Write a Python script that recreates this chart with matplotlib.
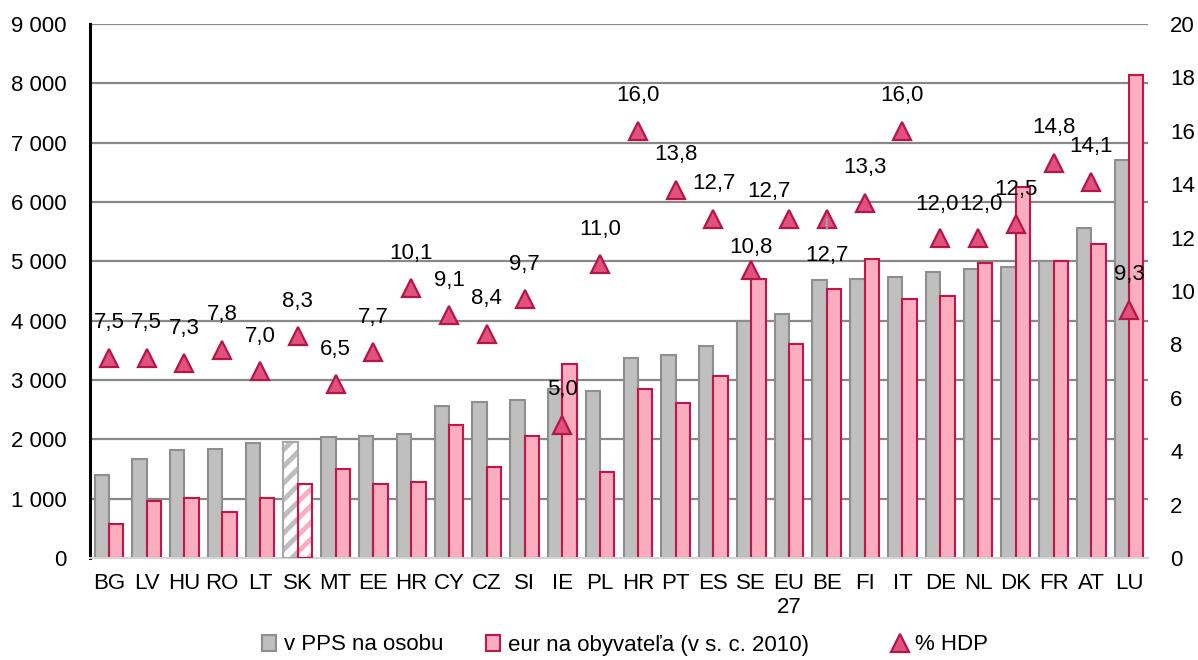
import matplotlib
matplotlib.use("Agg")
import matplotlib.pyplot as plt
import numpy as np
from matplotlib.patches import Patch
from matplotlib.lines import Line2D
from matplotlib.ticker import FuncFormatter

plt.rcParams['font.family'] = ['Liberation Sans', 'DejaVu Sans']
plt.rcParams['hatch.linewidth'] = 3.5

# --- data ---
countries = ['BG', 'LV', 'HU', 'RO', 'LT', 'SK', 'MT', 'EE', 'HR', 'CY', 'CZ', 'SI', 'IE', 'PL',
             'HR', 'PT', 'ES', 'SE', 'EU\n27', 'BE', 'FI', 'IT', 'DE', 'NL', 'DK', 'FR', 'AT', 'LU']
pps_per_person = [1400, 1670, 1820, 1840, 1930, 1960, 2045, 2060, 2090, 2555, 2635, 2665, 2850, 2815,
                  3370, 3425, 3575, 4000, 4110, 4685, 4710, 4735, 4815, 4870, 4905, 5000, 5560, 6710]
eur_per_capita = [570, 965, 1005, 775, 1010, 1245, 1505, 1255, 1275, 2240, 1535, 2055, 3275, 1455,
                  2850, 2615, 3060, 4700, 3600, 4530, 5040, 4365, 4410, 4970, 6255, 5010, 5295, 8140]
hdp_share = [7.5, 7.5, 7.3, 7.8, 7.0, 8.3, 6.5, 7.7, 10.1, 9.1, 8.4, 9.7, 5.0, 11.0,
             16.0, 13.8, 12.7, 10.8, 12.7, 12.7, 13.3, 16.0, 12.0, 12.0, 12.5, 14.8, 14.1, 9.3]
highlight = 'SK'

legend_labels = ['v PPS na osobu', 'eur na obyvateľa (v s. c. 2010)', '% HDP']

# colours
GRAY_FILL, GRAY_EDGE = '#BFBFBF', '#8E8E8E'
PINK_FILL, PINK_EDGE = '#F9ADBF', '#C4154B'
TRI_FILL, TRI_EDGE = '#E2517C', '#B5164A'

# label offsets in pixels (dx, dy), default above the marker
label_offsets = {17: (0, 22), 18: (-20, 27), 19: (0, -37), 22: (-3, 33), 23: (3, 33)}

fig = plt.figure(figsize=(11.98, 6.60), dpi=100)
ax = fig.add_axes([90 / 1198, 1 - 558 / 660, (1148 - 90) / 1198, (558 - 24) / 660])

x = np.arange(len(countries))
w = 0.38

for i, c in enumerate(countries):
    if c == highlight:
        # hatched bars: stripes first, outline on top
        ax.bar(x[i] - w / 2, pps_per_person[i], w, color='white', edgecolor='#BDBDBD',
               hatch='//', linewidth=0, zorder=2)
        ax.bar(x[i] - w / 2, pps_per_person[i], w, fill=False, edgecolor='#A8A8A8',
               linewidth=1.5, zorder=3)
        ax.bar(x[i] + w / 2, eur_per_capita[i], w, color='white', edgecolor=PINK_FILL,
               hatch='//', linewidth=0, zorder=2)
        ax.bar(x[i] + w / 2, eur_per_capita[i], w, fill=False, edgecolor=PINK_EDGE,
               linewidth=1.5, zorder=3)
    else:
        ax.bar(x[i] - w / 2, pps_per_person[i], w, color=GRAY_FILL, edgecolor=GRAY_EDGE,
               linewidth=1.5, zorder=2)
        ax.bar(x[i] + w / 2, eur_per_capita[i], w, color=PINK_FILL, edgecolor=PINK_EDGE,
               linewidth=1.5, zorder=2)

ax.set_xlim(-0.5, len(countries) - 0.5)
ax.set_ylim(0, 9000)
ax.set_yticks(np.arange(0, 9001, 1000))
ax.yaxis.set_major_formatter(FuncFormatter(lambda v, p: f"{v:,.0f}".replace(',', ' ')))
ax.set_xticks(x)
ax.set_xticklabels(countries, fontsize=16)
ax.tick_params(axis='y', length=0, pad=17, labelsize=16)
ax.tick_params(axis='x', length=0, pad=11)
ax.set_axisbelow(True)
ax.yaxis.grid(True, color='#888888', linewidth=1.6)
ax.get_yaxis().get_major_ticks()[0].gridline.set_visible(False)

for s in ['top', 'right']:
    ax.spines[s].set_visible(False)
ax.spines['left'].set_color('black')
ax.spines['left'].set_linewidth(2.2)
ax.spines['bottom'].set_color('#D4D4D4')
ax.spines['bottom'].set_linewidth(1.5)

# secondary axis: share of GDP
ax2 = ax.twinx()
ax2.set_ylim(0, 20)
ax2.set_yticks(np.arange(0, 21, 2))
ax2.tick_params(axis='y', length=0, pad=16, labelsize=16)
for s in ax2.spines.values():
    s.set_visible(False)

ax2.plot(x, hdp_share, linestyle='none', marker='^', markersize=13,
         markerfacecolor=TRI_FILL, markeredgecolor=TRI_EDGE, markeredgewidth=1.6, zorder=4)

for i, v in enumerate(hdp_share):
    dx, dy = label_offsets.get(i, (0, 35))
    txt = f"{v:.1f}".replace('.', ',')
    if dy < 0:
        ax2.annotate(txt, (x[i], v), xytext=(dx, dy), textcoords='offset pixels',
                     ha='center', va='center', fontsize=16, zorder=5,
                     arrowprops=dict(arrowstyle='-', color='#A0A0A0', lw=1.5,
                                     shrinkA=10, shrinkB=9))
    else:
        ax2.annotate(txt, (x[i], v), xytext=(dx, dy), textcoords='offset pixels',
                     ha='center', va='center', fontsize=16, zorder=5)

# legend entries laid out along the bottom
handles = [
    Patch(facecolor=GRAY_FILL, edgecolor=GRAY_EDGE, linewidth=1.5),
    Patch(facecolor=PINK_FILL, edgecolor=PINK_EDGE, linewidth=1.5),
    Line2D([], [], linestyle='none', marker='^', markersize=13,
           markerfacecolor=TRI_FILL, markeredgecolor=TRI_EDGE, markeredgewidth=1.6),
]
legend_x = [262, 486, 893]
for h, lab, lx in zip(handles, legend_labels, legend_x):
    fig.legend([h], [lab], loc='center left', bbox_to_anchor=(lx / 1198, 1 - 645 / 660),
               frameon=False, fontsize=16, borderpad=0, borderaxespad=0,
               handlelength=0.65, handleheight=0.75, handletextpad=0.35)

fig.savefig('out.png', dpi=100)
